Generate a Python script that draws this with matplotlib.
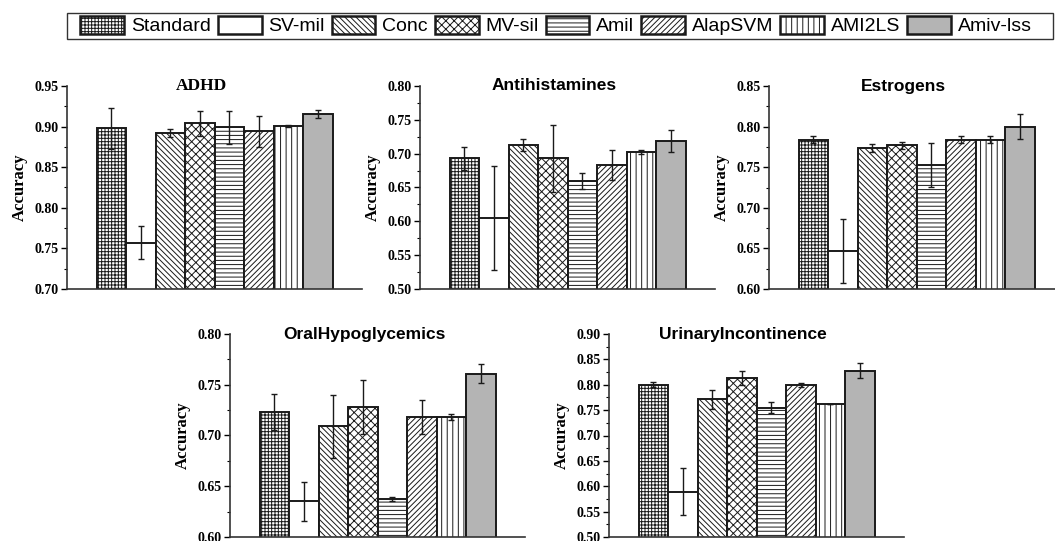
import matplotlib
matplotlib.use("Agg")
import matplotlib.pyplot as plt
from matplotlib.patches import Patch, Rectangle
from matplotlib.ticker import MultipleLocator

# methods and their fills
methods = ["Standard", "SV-mil", "Conc", "MV-sil", "Amil", "AlapSVM", "AMI2LS", "Amiv-lss"]
hatches = ["+++++", "", "\\\\\\\\\\\\", "xxxx", "----", "//////", "|||", ""]
faces = ["white", "white", "white", "white", "white", "white", "white", "#b4b4b4"]

datasets = ["ADHD", "Antihistamines", "Estrogens", "OralHypoglycemics", "UrinaryIncontinence"]

adhd_mean = [0.898, 0.757, 0.892, 0.904, 0.899, 0.894, 0.901, 0.915]
adhd_err = [0.025, 0.020, 0.005, 0.015, 0.020, 0.019, 0.001, 0.005]

anti_mean = [0.693, 0.605, 0.713, 0.693, 0.660, 0.683, 0.703, 0.719]
anti_err = [0.017, 0.077, 0.009, 0.049, 0.012, 0.022, 0.003, 0.016]

estr_mean = [0.784, 0.647, 0.774, 0.777, 0.753, 0.784, 0.784, 0.800]
estr_err = [0.004, 0.039, 0.005, 0.004, 0.027, 0.004, 0.004, 0.015]

oral_mean = [0.723, 0.635, 0.709, 0.728, 0.637, 0.718, 0.718, 0.761]
oral_err = [0.018, 0.019, 0.031, 0.027, 0.002, 0.017, 0.003, 0.009]

urin_mean = [0.800, 0.589, 0.771, 0.814, 0.755, 0.800, 0.762, 0.828]
urin_err = [0.005, 0.046, 0.018, 0.014, 0.011, 0.004, 0.000, 0.015]

ylims = [(0.70, 0.95), (0.50, 0.80), (0.60, 0.85), (0.60, 0.80), (0.50, 0.90)]
means = [adhd_mean, anti_mean, estr_mean, oral_mean, urin_mean]
errs = [adhd_err, anti_err, estr_err, oral_err, urin_err]

plt.rcParams["hatch.linewidth"] = 0.7
plt.rcParams["hatch.color"] = "#222222"

W, H = 1055, 541
fig = plt.figure(figsize=(W / 100, H / 100), dpi=100)

# axes boxes in pixels: left, top-of-plot, width, height
boxes = [(67, 86), (420, 86), (769, 86), (230, 334), (609, 334)]
aw, ah = 295, 203

serif = ["Liberation Serif", "DejaVu Serif"]
sans = ["Liberation Sans", "DejaVu Sans"]

for i, name in enumerate(datasets):
    lx, ty = boxes[i]
    ax = fig.add_axes([lx / W, (H - ty - ah) / H, aw / W, ah / H])
    x = list(range(len(methods)))
    ax.bar(x, means[i], width=1.0, color=faces, edgecolor="#1a1a1a",
           linewidth=1.4, zorder=2)
    for j, p in enumerate(ax.patches):
        p.set_hatch(hatches[j])
    ax.errorbar(x, means[i], yerr=errs[i], fmt="none", ecolor="#1a1a1a",
                elinewidth=1.0, capsize=2.3, capthick=1.0, zorder=3)
    ax.set_xlim(-1.5, 8.5)
    ax.set_ylim(*ylims[i])
    ax.yaxis.set_major_locator(MultipleLocator(0.05))
    ax.yaxis.set_minor_locator(MultipleLocator(0.025))
    ax.set_xticks([])
    for s in ["top", "right"]:
        ax.spines[s].set_visible(False)
    for s in ["left", "bottom"]:
        ax.spines[s].set_linewidth(1.2)
        ax.spines[s].set_color("#333333")
    ax.tick_params(axis="y", which="major", length=4, width=1.0, direction="out",
                   labelsize=10, pad=2)
    ax.tick_params(axis="y", which="minor", length=2.5, width=0.8, direction="out")
    ticks = ax.get_yticks()
    ax.set_yticks(ticks)
    ax.set_yticklabels([f"{v:.2f}" for v in ticks], fontfamily=serif, fontweight="bold")
    ax.set_ylim(*ylims[i])
    ax.set_ylabel("Accuracy", fontfamily=serif, fontweight="bold", fontsize=12, labelpad=5)
    fam = serif if name == "ADHD" else sans
    ax.text(0.455, 1.0, name, transform=ax.transAxes, ha="center", va="center",
            fontfamily=fam, fontweight="bold", fontsize=12.5)

handles = [Patch(facecolor=faces[k], edgecolor="#1a1a1a", linewidth=1.8, hatch=hatches[k])
           for k in range(len(methods))]
leg = fig.legend(handles, methods, loc="center", bbox_to_anchor=(556 / W, 1 - 25.5 / H),
                 ncol=8, frameon=False,
                 prop={"family": sans, "size": 14}, handlelength=2.25, handleheight=1.1,
                 handletextpad=0.35, columnspacing=0.36, borderpad=0.0, borderaxespad=0.0)

# legend frame (wider than the legend content in the original)
fig.patches.append(Rectangle((67 / W, 1 - 39 / H), (1053 - 67) / W, 26 / H,
                             transform=fig.transFigure, fill=False,
                             edgecolor="#333333", linewidth=1.0))

fig.savefig("out.png", dpi=100)
